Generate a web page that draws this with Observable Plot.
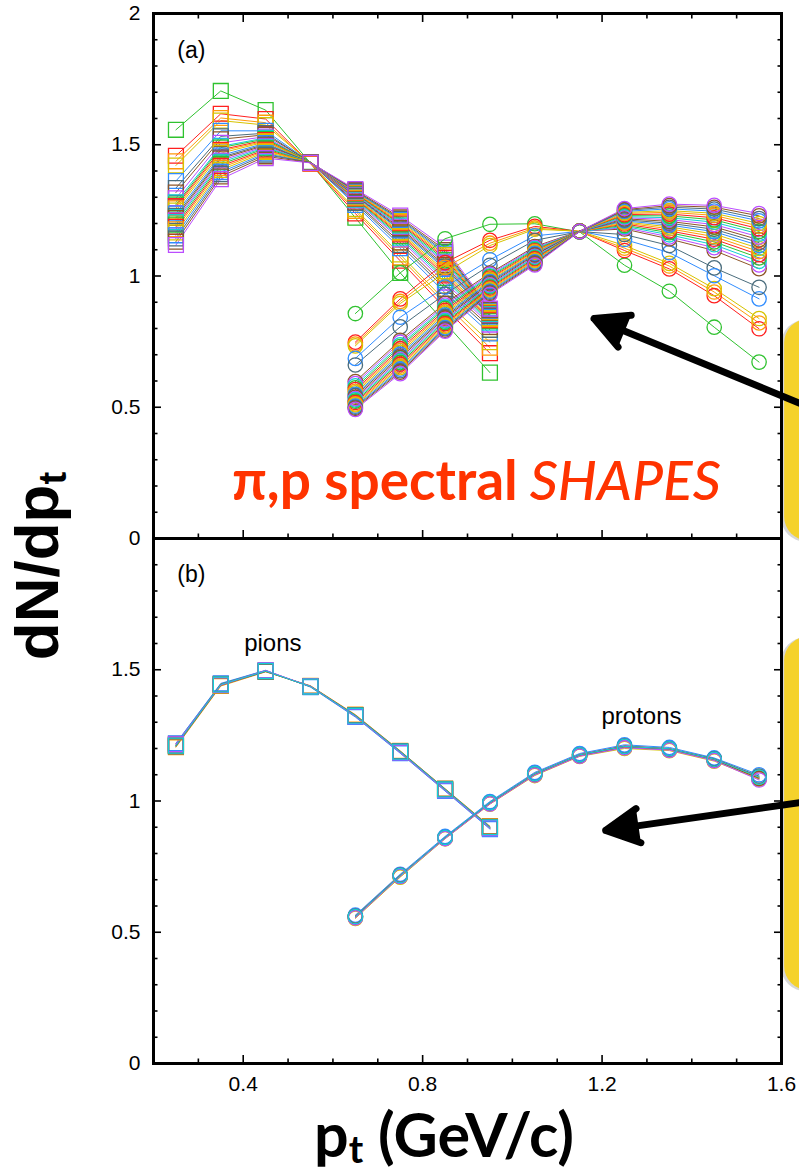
<!DOCTYPE html>
<html>
<head>
<meta charset="utf-8">
<script src="https://cdn.jsdelivr.net/npm/d3@7"></script>
<script src="https://cdn.jsdelivr.net/npm/@observablehq/plot@0.6"></script>
<style>
  html, body { margin: 0; padding: 0; background: #ffffff; }
  #chart { width: 799px; height: 1172px; }
</style>
</head>
<body>
<div id="chart"></div>
<script>
// ---------------- data ----------------
const pionPt   = [0.25, 0.35, 0.45, 0.55, 0.65, 0.75, 0.85, 0.95];
const protonPt = [0.65, 0.75, 0.85, 0.95, 1.05, 1.15, 1.25, 1.35, 1.45, 1.55];

const colorKeys = ["green", "red", "orange", "gold", "azure", "slate", "brown", "purple", "cyan"];
const palette   = ["#2fc22f", "#ff1f1f", "#ff9a0a", "#d6c300", "#2f8cff", "#4b6d7d", "#8d5528", "#bb4dff", "#12cfd6"];

// panel (a): pion spectral shapes (one row per parameter set)
const pionShapes = [
  [1.557, 1.705, 1.632, 1.430, 1.222, 1.012, 0.822, 0.632],
  [1.458, 1.618, 1.598, 1.428, 1.238, 1.058, 0.878, 0.706],
  [1.437, 1.602, 1.584, 1.430, 1.248, 1.071, 0.894, 0.727],
  [1.421, 1.592, 1.575, 1.431, 1.255, 1.082, 0.906, 0.748],
  [1.362, 1.553, 1.553, 1.433, 1.271, 1.106, 0.936, 0.781],
  [1.335, 1.532, 1.544, 1.432, 1.278, 1.118, 0.951, 0.795],
  [1.318, 1.521, 1.538, 1.433, 1.283, 1.128, 0.962, 0.806],
  [1.296, 1.507, 1.531, 1.431, 1.288, 1.139, 0.975, 0.815],
  [1.281, 1.494, 1.526, 1.432, 1.291, 1.146, 0.985, 0.822],
  [1.272, 1.489, 1.522, 1.434, 1.294, 1.152, 0.993, 0.828],
  [1.266, 1.481, 1.518, 1.431, 1.296, 1.158, 1.002, 0.832],
  [1.258, 1.476, 1.514, 1.433, 1.298, 1.163, 1.010, 0.836],
  [1.249, 1.468, 1.511, 1.432, 1.301, 1.168, 1.018, 0.840],
  [1.238, 1.459, 1.506, 1.431, 1.304, 1.174, 1.027, 0.845],
  [1.229, 1.452, 1.502, 1.433, 1.306, 1.178, 1.034, 0.848],
  [1.221, 1.447, 1.498, 1.432, 1.308, 1.183, 1.041, 0.851],
  [1.212, 1.440, 1.494, 1.431, 1.310, 1.188, 1.049, 0.854],
  [1.205, 1.433, 1.490, 1.433, 1.312, 1.192, 1.055, 0.856],
  [1.196, 1.426, 1.486, 1.432, 1.314, 1.197, 1.061, 0.859],
  [1.187, 1.419, 1.481, 1.431, 1.316, 1.201, 1.068, 0.861],
  [1.178, 1.412, 1.477, 1.433, 1.318, 1.205, 1.074, 0.863],
  [1.166, 1.404, 1.472, 1.432, 1.320, 1.210, 1.080, 0.865],
  [1.155, 1.396, 1.467, 1.431, 1.322, 1.214, 1.086, 0.868],
  [1.143, 1.388, 1.462, 1.433, 1.324, 1.218, 1.092, 0.870],
  [1.131, 1.379, 1.456, 1.432, 1.327, 1.223, 1.099, 0.872],
  [1.118, 1.369, 1.449, 1.431, 1.331, 1.230, 1.108, 0.876]
];

// panel (a): proton spectral shapes
const protonShapes = [
  [0.857, 1.012, 1.142, 1.197, 1.199, 1.168, 1.041, 0.942, 0.805, 0.672],
  [0.748, 0.913, 1.051, 1.136, 1.189, 1.170, 1.097, 1.027, 0.925, 0.799],
  [0.741, 0.903, 1.033, 1.125, 1.183, 1.169, 1.106, 1.038, 0.939, 0.821],
  [0.734, 0.895, 1.013, 1.116, 1.178, 1.171, 1.116, 1.048, 0.952, 0.838],
  [0.686, 0.843, 0.958, 1.062, 1.153, 1.170, 1.139, 1.089, 1.001, 0.913],
  [0.661, 0.806, 0.931, 1.041, 1.136, 1.169, 1.158, 1.116, 1.031, 0.957],
  [0.598, 0.755, 0.896, 1.011, 1.112, 1.171, 1.179, 1.141, 1.097, 1.028],
  [0.590, 0.747, 0.889, 1.006, 1.108, 1.170, 1.184, 1.149, 1.108, 1.042],
  [0.582, 0.738, 0.882, 1.001, 1.104, 1.169, 1.189, 1.157, 1.119, 1.056],
  [0.574, 0.731, 0.876, 0.997, 1.100, 1.171, 1.193, 1.165, 1.130, 1.069],
  [0.567, 0.723, 0.869, 0.992, 1.096, 1.170, 1.198, 1.172, 1.140, 1.081],
  [0.561, 0.716, 0.863, 0.988, 1.093, 1.169, 1.202, 1.180, 1.150, 1.093],
  [0.555, 0.709, 0.857, 0.983, 1.089, 1.171, 1.206, 1.187, 1.160, 1.105],
  [0.549, 0.702, 0.851, 0.979, 1.086, 1.170, 1.210, 1.194, 1.169, 1.116],
  [0.544, 0.695, 0.845, 0.975, 1.082, 1.169, 1.214, 1.201, 1.178, 1.127],
  [0.538, 0.689, 0.840, 0.970, 1.079, 1.171, 1.218, 1.208, 1.187, 1.138],
  [0.533, 0.682, 0.834, 0.966, 1.075, 1.170, 1.222, 1.215, 1.196, 1.149],
  [0.528, 0.676, 0.829, 0.962, 1.072, 1.169, 1.226, 1.222, 1.205, 1.160],
  [0.523, 0.670, 0.823, 0.958, 1.068, 1.171, 1.230, 1.229, 1.214, 1.170],
  [0.518, 0.664, 0.818, 0.954, 1.065, 1.170, 1.234, 1.236, 1.222, 1.180],
  [0.513, 0.657, 0.813, 0.950, 1.061, 1.169, 1.238, 1.243, 1.231, 1.190],
  [0.509, 0.651, 0.808, 0.946, 1.058, 1.171, 1.242, 1.249, 1.239, 1.200],
  [0.504, 0.645, 0.803, 0.942, 1.054, 1.170, 1.246, 1.256, 1.247, 1.210],
  [0.500, 0.639, 0.799, 0.938, 1.050, 1.169, 1.250, 1.262, 1.255, 1.219],
  [0.496, 0.634, 0.794, 0.934, 1.046, 1.171, 1.253, 1.268, 1.262, 1.229],
  [0.492, 0.628, 0.790, 0.930, 1.042, 1.170, 1.257, 1.274, 1.269, 1.238]
];

// panel (b): pions, all parameter sets nearly coincide
const pionFits = [
  [1.210, 1.440, 1.494, 1.437, 1.326, 1.188, 1.044, 0.900],
  [1.218, 1.446, 1.497, 1.435, 1.322, 1.184, 1.040, 0.896],
  [1.205, 1.438, 1.492, 1.439, 1.329, 1.191, 1.047, 0.904],
  [1.214, 1.443, 1.496, 1.436, 1.324, 1.186, 1.042, 0.898],
  [1.220, 1.448, 1.498, 1.434, 1.320, 1.182, 1.038, 0.893],
  [1.208, 1.441, 1.493, 1.438, 1.327, 1.190, 1.046, 0.902],
  [1.212, 1.445, 1.495, 1.436, 1.325, 1.187, 1.043, 0.899],
  [1.216, 1.442, 1.497, 1.437, 1.323, 1.185, 1.041, 0.897],
  [1.211, 1.444, 1.495, 1.436, 1.325, 1.188, 1.044, 0.900]
];

// panel (b): protons
const protonFits = [
  [0.556, 0.712, 0.858, 0.990, 1.100, 1.172, 1.204, 1.196, 1.156, 1.088],
  [0.562, 0.718, 0.862, 0.995, 1.106, 1.178, 1.210, 1.200, 1.160, 1.092],
  [0.559, 0.715, 0.860, 0.993, 1.103, 1.175, 1.207, 1.198, 1.158, 1.090],
  [0.553, 0.710, 0.856, 0.988, 1.097, 1.170, 1.200, 1.192, 1.152, 1.083],
  [0.565, 0.721, 0.865, 0.998, 1.109, 1.181, 1.214, 1.204, 1.164, 1.100],
  [0.558, 0.714, 0.861, 0.994, 1.104, 1.176, 1.209, 1.199, 1.161, 1.095],
  [0.561, 0.717, 0.859, 0.991, 1.101, 1.173, 1.205, 1.197, 1.157, 1.086],
  [0.555, 0.713, 0.857, 0.989, 1.099, 1.171, 1.203, 1.194, 1.154, 1.080],
  [0.560, 0.716, 0.861, 0.994, 1.104, 1.176, 1.208, 1.199, 1.159, 1.091]
];

// ticks and labels
const xTickLabels = [0.4, 0.8, 1.2, 1.6];
const xMajorTicks = [0.4, 0.8, 1.2];
const xMinorTicks = [0.3, 0.5, 0.6, 0.7, 0.9, 1.0, 1.1, 1.3, 1.4, 1.5];
const yMajorTicks = [0.5, 1, 1.5];
const yMinorTicks = [0.1, 0.2, 0.3, 0.4, 0.6, 0.7, 0.8, 0.9, 1.1, 1.2, 1.3, 1.4, 1.6, 1.7, 1.8, 1.9];
const yLabelsA = [0, 0.5, 1, 1.5, 2];
const yLabelsB = [0, 0.5, 1, 1.5];

// annotations (data coordinates)
const panelTags   = [{panel: "a", label: "(a)", pt: 0.253, v: 1.86}, {panel: "b", label: "(b)", pt: 0.253, v: 1.862}];
const speciesTags = [{panel: "b", label: "pions", pt: 0.466, v: 1.60}, {panel: "b", label: "protons", pt: 1.288, v: 1.322}];
const boxes  = [{panel: "a", x1: 1.607, x2: 1.78, y1: 0.835, y2: -0.01}, {panel: "b", x1: 1.607, x2: 1.78, y1: 1.625, y2: 0.278}];
const arrows = [{panel: "a", x1: 1.645, y1: 0.512, x2: 1.182, y2: 0.838}, {panel: "b", x1: 1.645, y1: 0.995, x2: 1.208, y2: 0.888}];
const shapeTitle = [{panel: "a", pt: 1.012, v: 0.215}];

// ---------------- tidy tables ----------------
function tidy(panel, species, xs, rows) {
  const out = [];
  rows.forEach((vals, i) => vals.forEach((v, j) => out.push({
    panel, series: `${panel}-${species}-${i}`, ck: colorKeys[i % colorKeys.length], pt: xs[j], v
  })));
  return out;
}
const pionsA   = tidy("a", "pi", pionPt, pionShapes);
const protonsA = tidy("a", "p", protonPt, protonShapes);
const pionsB   = tidy("b", "pi", pionPt, pionFits);
const protonsB = tidy("b", "p", protonPt, protonFits);
const yLabels  = [...yLabelsA.map(v => ({panel: "a", v})), ...yLabelsB.map(v => ({panel: "b", v}))];

const lineOpts = {x: "pt", y: "v", z: "series", stroke: "ck", strokeWidth: 1, fy: "panel"};
const sqOpts   = {x: "pt", y: "v", stroke: "ck", symbol: "square", r: 8.4, strokeWidth: 1.3, fill: "none", fy: "panel"};
const ciOpts   = {x: "pt", y: "v", stroke: "ck", symbol: "circle", r: 7.2, strokeWidth: 1.3, fill: "none", fy: "panel"};
const tk = {label: null, fill: "none", stroke: "#000", strokeWidth: 1.6};

const chart = Plot.plot({
  width: 799,
  height: 1172,
  marginLeft: 153,
  marginRight: 18,
  marginTop: 13,
  marginBottom: 109,
  style: {fontFamily: "'Liberation Sans', Arial, sans-serif", fontSize: "21px", background: "#ffffff", overflow: "visible"},
  x: {domain: [0.2, 1.6]},
  y: {domain: [0, 2]},
  fy: {domain: ["a", "b"], axis: null, padding: 0},
  color: {domain: colorKeys, range: palette},
  marks: [
    Plot.rect(boxes, {x1: "x1", x2: "x2", y1: "y1", y2: "y2", fy: "panel", fill: "#bdbdbd", fillOpacity: 0.6, rx: 24, dx: -3, dy: 1}),
    Plot.rect(boxes, {x1: "x1", x2: "x2", y1: "y1", y2: "y2", fy: "panel", fill: "#f5d22b", rx: 24}),
    Plot.line(pionsA, lineOpts),
    Plot.dot(pionsA, sqOpts),
    Plot.line(protonsA, lineOpts),
    Plot.dot(protonsA, ciOpts),
    Plot.line(pionsB, lineOpts),
    Plot.dot(pionsB, sqOpts),
    Plot.line(protonsB, lineOpts),
    Plot.dot(protonsB, ciOpts),
    Plot.frame({stroke: "#000", strokeWidth: 3}),
    // inward ticks
    Plot.axisY({...tk, anchor: "left", ticks: yMajorTicks, tickSize: -8}),
    Plot.axisY({...tk, anchor: "left", ticks: yMinorTicks, tickSize: -4.5}),
    Plot.axisY({...tk, anchor: "right", ticks: yMajorTicks, tickSize: -8}),
    Plot.axisY({...tk, anchor: "right", ticks: yMinorTicks, tickSize: -4.5}),
    Plot.axisX({...tk, anchor: "bottom", ticks: xMajorTicks, tickSize: -8, facetAnchor: null}),
    Plot.axisX({...tk, anchor: "bottom", ticks: xMinorTicks, tickSize: -4.5, facetAnchor: null}),
    Plot.axisX({...tk, anchor: "top", ticks: xMajorTicks, tickSize: -8}),
    Plot.axisX({...tk, anchor: "top", ticks: xMinorTicks, tickSize: -4.5}),
    // tick labels
    Plot.axisX({anchor: "bottom", ticks: xTickLabels, tickSize: 0, tickPadding: 13, label: null, fontSize: 21, tickFormat: d3.format("")}),
    Plot.text(yLabels, {fy: "panel", y: "v", text: d => String(d.v), frameAnchor: "left", dx: -13, textAnchor: "end", fontSize: 21}),
    // panel annotations
    Plot.text(panelTags, {fy: "panel", x: "pt", y: "v", text: "label", textAnchor: "start", fontSize: 23}),
    Plot.text(speciesTags, {fy: "panel", x: "pt", y: "v", text: "label", fontSize: 24}),
    Plot.text(shapeTitle, {fy: "panel", x: "pt", y: "v", text: () => "π,p spectral", textAnchor: "end", fontSize: 55, fontWeight: "bold", fill: "#ff3300", fontFamily: "Lato, 'Open Sans', sans-serif"}),
    Plot.text(shapeTitle, {fy: "panel", x: "pt", y: "v", text: () => "SHAPES", textAnchor: "start", dx: 12, fontSize: 55, fontStyle: "italic", fontWeight: 500, fill: "#ff3300", fontFamily: "Lato, 'Open Sans', sans-serif"}),
    Plot.arrow(arrows, {fy: "panel", x1: "x1", y1: "y1", x2: "x2", y2: "y2", stroke: "#000", fill: "#000", strokeWidth: 7, headLength: 8, headAngle: 55})
  ]
});

document.getElementById("chart").appendChild(chart);

// axis titles with subscripts
const svg = d3.select(chart);
const yTitle = svg.append("text")
  .attr("transform", "translate(58,566) rotate(-90)")
  .attr("text-anchor", "middle")
  .attr("font-family", "'Liberation Sans', Arial, sans-serif")
  .attr("font-weight", "bold")
  .attr("font-size", 62)
  .attr("fill", "#000");
yTitle.append("tspan").text("dN/dp");
yTitle.append("tspan").attr("font-size", 38).attr("dy", 8).text("t");

const xTitle = svg.append("text")
  .attr("x", 444)
  .attr("y", 1157)
  .attr("text-anchor", "middle")
  .attr("font-family", "Lato, 'Open Sans', sans-serif")
  .attr("font-weight", "bold")
  .attr("font-size", 61)
  .attr("fill", "#000");
xTitle.append("tspan").text("p");
xTitle.append("tspan").attr("font-size", 39).attr("dy", 6).text("t");
xTitle.append("tspan").attr("dy", -6).text(" (GeV/c)");
</script>
</body>
</html>
